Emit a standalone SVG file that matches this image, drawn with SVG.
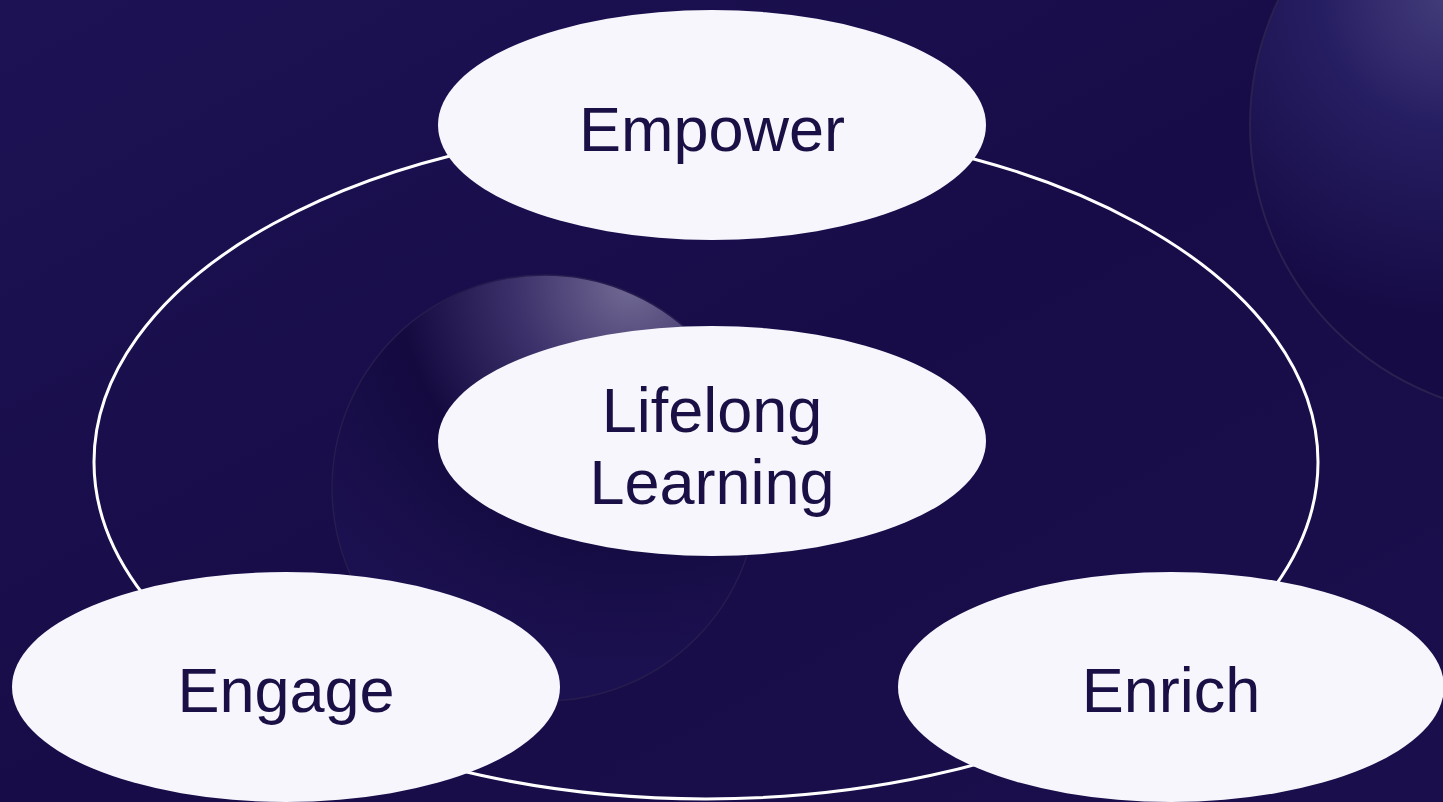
<svg xmlns="http://www.w3.org/2000/svg" width="1443" height="802" viewBox="0 0 1443 802">
<defs>
<linearGradient id="bg" x1="0" y1="0" x2="1" y2="1">
<stop offset="0" stop-color="#1d1254"/>
<stop offset="0.5" stop-color="#180c48"/>
<stop offset="1" stop-color="#1a0f4c"/>
</linearGradient>
<radialGradient id="sphere" cx="0.7" cy="0.02" r="0.9">
<stop offset="0" stop-color="#726a94"/>
<stop offset="0.3" stop-color="#3c316a"/>
<stop offset="0.6" stop-color="#140a40"/>
<stop offset="1" stop-color="#1c1150"/>
</radialGradient>
<radialGradient id="sphere2" cx="0.34" cy="0.28" r="0.55">
<stop offset="0" stop-color="#433c7a"/>
<stop offset="0.4" stop-color="#261e62"/>
<stop offset="1" stop-color="#160b45"/>
</radialGradient>
<style>
.node ellipse{fill:#f7f6fd;}
.node text{font-family:"Liberation Sans",Arial,sans-serif;font-size:63px;fill:#1a1045;text-anchor:middle;}
.ring{fill:none;stroke:#ffffff;stroke-width:3;}
</style>
</defs>
<rect x="0" y="0" width="1443" height="802" fill="url(#bg)"/>
<circle cx="545" cy="488" r="213" fill="url(#sphere)" stroke="#261c4e" stroke-width="1.5"/>
<circle cx="1540" cy="125" r="290" fill="url(#sphere2)" stroke="#2a2150" stroke-width="2"/>
<g id="connectors">
<ellipse class="ring" cx="706" cy="462" rx="612" ry="337"/>
</g>
<g id="node-empower" class="node">
<ellipse cx="712" cy="125" rx="274" ry="115"/>
<text x="712" y="151">Empower</text>
</g>
<g id="node-lifelong" class="node">
<ellipse cx="712" cy="441" rx="274" ry="115"/>
<text x="712" y="432">Lifelong</text>
<text x="712" y="504">Learning</text>
</g>
<g id="node-engage" class="node">
<ellipse cx="286" cy="687" rx="274" ry="115"/>
<text x="286" y="712">Engage</text>
</g>
<g id="node-enrich" class="node">
<ellipse cx="1171" cy="687" rx="273" ry="115"/>
<text x="1171" y="712">Enrich</text>
</g>
</svg>
